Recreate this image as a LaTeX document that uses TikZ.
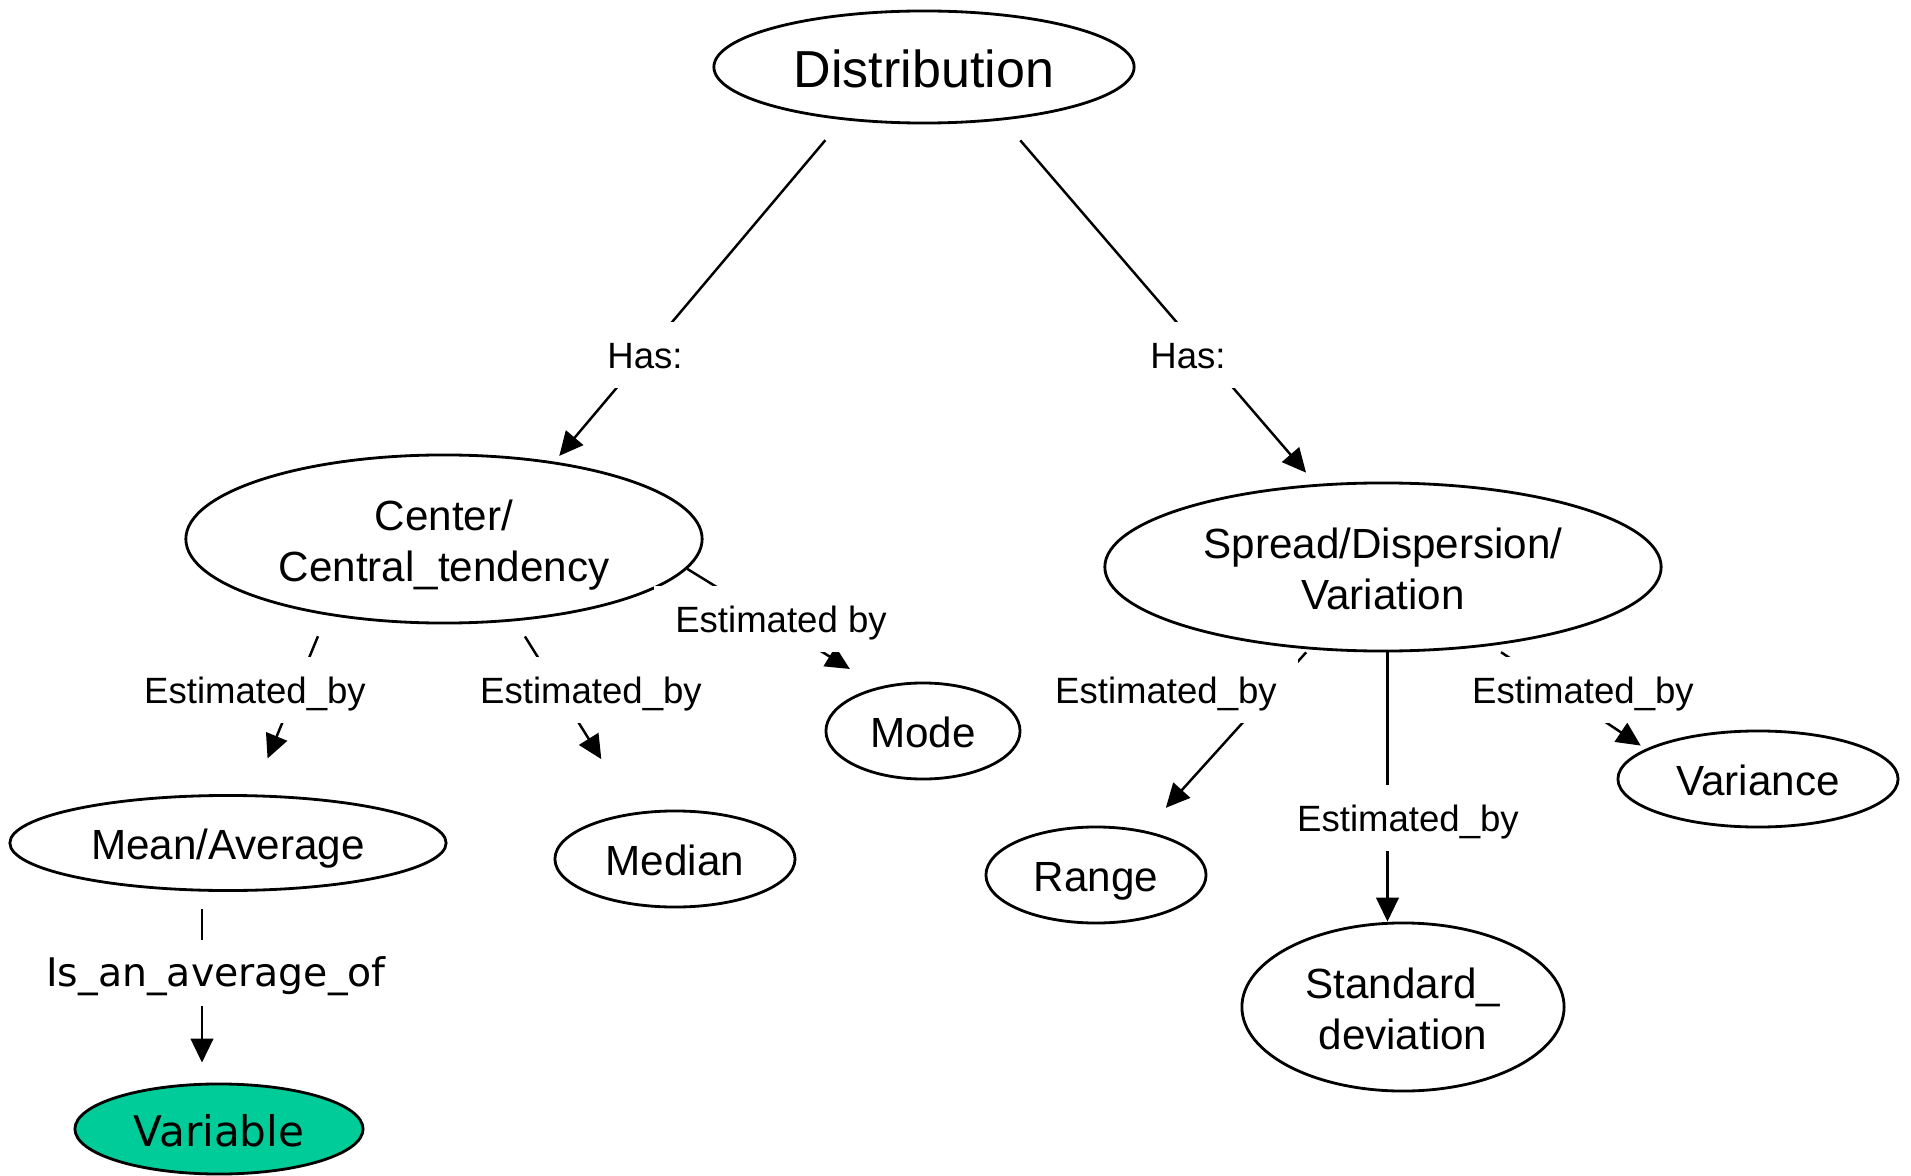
\documentclass[tikz,border=0pt]{standalone}
\usepackage{fontspec}
\setmainfont{Liberation Sans}
\newfontfamily\verdana{DejaVu Sans}
\usetikzlibrary{shapes.geometric,arrows.meta}
\definecolor{varfill}{RGB}{0,204,153}
\begin{document}
\begin{tikzpicture}[x=0.01cm,y=-0.01cm,
    concept/.style={ellipse,draw,line width=0.8pt,inner sep=0pt,align=center,text height=9.6pt,text depth=0pt,font=\fontsize{12}{14.5}\selectfont},
    twoline/.style={text height=24.2pt,text depth=0pt},
    rel/.style={fill=white,inner xsep=6pt,inner ysep=4.5pt,text height=8.65pt,text depth=1.25pt,font=\fontsize{10.4}{12}\selectfont},
    conn/.style={line width=0.7pt,-{Triangle[length=6.8pt,width=6.4pt]}}]
                \useasboundingbox (0,0) rectangle (1911,1176);
                \node[concept,minimum width=4.2cm,minimum height=1.12cm,text height=11.8pt,font=\fontsize{14.8}{17}\selectfont] (dist) at (924,67) {Distribution};
                \node[concept,twoline,minimum width=5.16cm,minimum height=1.68cm] (center) at (444,539) {Center/\\Central\_tendency};
                \node[concept,twoline,minimum width=5.56cm,minimum height=1.68cm] (spread) at (1383,567) {Spread/Dispersion/\\Variation};
                \node[concept,minimum width=4.36cm,minimum height=0.95cm] (mean) at (228,843) {Mean/Average};
                \node[concept,minimum width=2.4cm,minimum height=0.96cm] (median) at (675,859) {Median};
                \node[concept,minimum width=1.94cm,minimum height=0.96cm] (mode) at (923,731) {Mode};
                \node[concept,minimum width=2.2cm,minimum height=0.96cm] (range) at (1096,875) {Range};
                \node[concept,twoline,minimum width=3.22cm,minimum height=1.68cm] (stddev) at (1403,1007) {Standard\_\\deviation};
                \node[concept,minimum width=2.8cm,minimum height=0.96cm] (variance) at (1758,779) {Variance};
                \node[concept,fill=varfill,minimum width=2.88cm,minimum height=0.9cm,text height=10.2pt,font=\verdana\fontsize{12}{14.5}\selectfont] (variable) at (219,1129) {Variable};
                \draw[conn,shorten <=2.64mm,shorten >=0.75mm] (dist.213) -- (center.35);
                \draw[conn,shorten <=2.65mm,shorten >=1.5mm] (dist.326) -- (spread.129);
                \draw[conn,shorten <=2.27mm,shorten >=3.88mm] (center.213) -- (mean.63);
                \draw[conn,shorten <=1.8mm,shorten >=6.27mm] (center.311) -- (median.131);
                \draw[conn,shorten >=3.4mm] (center.-7) -- (mode.135);
                \draw[conn,shorten <=0.4mm,shorten >=3.07mm] (spread.228) -- (range.42);
                \draw[conn] (spread.-87) -- (spread.-87 |- stddev.north);
                \draw[conn,shorten <=1.16mm,shorten >=0.6mm] (spread.-36) -- (variance.165);
                \draw[conn,shorten <=1.75mm,shorten >=2mm] ([xshift=-0.26cm]mean.south) -- ([xshift=-0.26cm]mean.south |- variable.north);
                \node[rel] (has1) at (645,355) {Has:};
                \node[rel] (has2) at (1188,355) {Has:};
                \node[rel] (est1) at (255,690) {Estimated\_by};
                \node[rel] (est2) at (591,690) {Estimated\_by};
                \node[rel] (est3) at (781,619) {Estimated by};
                \node[rel] (est4) at (1166,690) {Estimated\_by};
                \node[rel] (est5) at (1408,818) {Estimated\_by};
                \node[rel] (est6) at (1583,690) {Estimated\_by};
                \node[rel,font=\verdana\fontsize{11.2}{13}\selectfont] (avg) at (216,973) {Is\_an\_average\_of};
            \end{tikzpicture}
\end{document}
